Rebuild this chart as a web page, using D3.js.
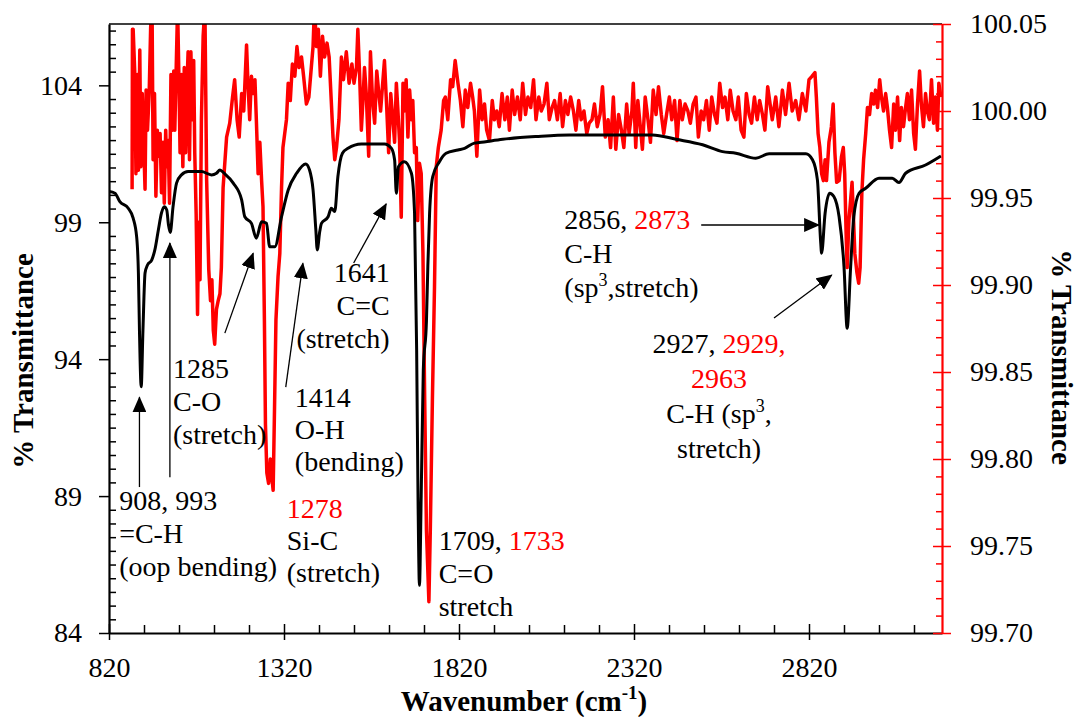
<!DOCTYPE html>
<html>
<head>
<meta charset="utf-8">
<script src="https://cdn.jsdelivr.net/npm/d3@7"></script>
<style>
  body { margin: 0; background: #fff; }
  svg text { font-family: "Liberation Serif", "Times New Roman", serif; }
</style>
</head>
<body>
<div id="chart"></div>
<script>
// black spectrum (left axis)
var blackWavenumber = [820,837,851,875,889,899,904,907,912,917,923,930,942,951,961,970,978,985,990,995,1003,1013,1027,1046,1084,1113,1127,1137,1149,1175,1199,1208,1227,1241,1256,1270,1279,1294,1313,1332,1356,1382,1393,1403,1411,1415,1422,1427,1446,1455,1465,1474,1487,1503,1541,1607,1627,1636,1641,1647,1664,1684,1693,1699,1703,1707,1712,1718,1727,1731,1736,1745,1764,1783,1817,1836,1864,1878,1945,2040,2135,2230,2373,2440,2516,2573,2611,2668,2706,2811,2830,2844,2853,2856,2866,2879,2891,2906,2920,2929,2939,2948,2963,2982,3020,3058,3077,3096,3153,3197];
var blackTransmittance = [100.12,100.06,99.75,99.51,99.15,98.47,97.15,95.06,92.99,95.06,97.15,97.44,97.62,97.99,98.72,99.34,99.57,99.45,98.90,98.63,99.57,100.43,100.73,100.85,100.85,100.73,100.79,100.91,100.79,100.43,99.82,99.20,98.96,98.42,99.02,98.96,98.11,98.11,99.20,100.18,100.79,101.13,100.91,100.18,98.72,97.99,98.65,98.96,99.20,99.51,99.39,100.67,101.52,101.70,101.86,101.86,101.70,101.28,100.06,101.03,101.21,100.79,99.34,94.33,88.85,85.74,89.0,93.6,95.4,97.4,99.34,100.67,101.21,101.52,101.64,101.70,101.89,101.91,102.03,102.13,102.19,102.19,102.19,102.03,101.83,101.58,101.52,101.34,101.50,101.50,101.28,100.55,98.35,97.87,99.33,100.06,99.94,99.20,97.38,95.13,97.38,99.20,100.06,100.24,100.61,100.61,100.45,100.79,101.09,101.42];

// red spectrum (right axis)
var redWavenumber = [886,887,889,894,897,901,904,908,911,915,919,923,926,930,935,939,943,946,950,954,958,962,966,970,974,978,982,985,989,993,997,1001,1005,1008,1012,1016,1020,1023,1027,1031,1035,1039,1043,1046,1050,1054,1058,1062,1065,1069,1073,1076,1080,1084,1089,1094,1099,1105,1110,1114,1118,1122,1127,1132,1137,1141,1146,1156,1165,1173,1179,1186,1192,1199,1205,1213,1217,1222,1227,1232,1237,1241,1246,1251,1256,1260,1264,1267,1271,1276,1281,1285,1289,1293,1297,1303,1308,1313,1317,1322,1327,1332,1338,1344,1351,1357,1363,1370,1376,1384,1391,1398,1403,1407,1413,1418,1424,1430,1436,1443,1449,1455,1460,1465,1470,1477,1484,1490,1498,1506,1514,1520,1527,1531,1536,1541,1545,1550,1555,1562,1567,1573,1579,1585,1590,1596,1602,1607,1613,1619,1625,1631,1636,1641,1645,1650,1655,1660,1664,1669,1674,1679,1684,1688,1693,1698,1702,1707,1712,1717,1722,1727,1734,1738,1744,1750,1755,1761,1769,1776,1781,1788,1796,1802,1809,1817,1824,1831,1838,1845,1853,1859,1864,1871,1879,1886,1893,1899,1907,1915,1921,1928,1935,1943,1951,1958,1964,1972,1979,1987,1995,2002,2010,2017,2025,2033,2040,2048,2055,2063,2071,2078,2086,2093,2101,2109,2116,2124,2131,2139,2147,2154,2162,2169,2177,2185,2192,2200,2207,2215,2223,2230,2238,2246,2253,2261,2268,2276,2284,2291,2299,2306,2314,2318,2325,2331,2339,2344,2352,2360,2367,2375,2383,2390,2398,2405,2413,2421,2428,2436,2443,2451,2458,2466,2474,2481,2489,2497,2504,2512,2519,2527,2535,2542,2550,2557,2565,2573,2580,2588,2595,2603,2611,2618,2626,2634,2641,2649,2656,2664,2672,2679,2687,2694,2702,2715,2725,2734,2744,2753,2763,2772,2782,2791,2801,2811,2820,2829,2837,2841,2846,2851,2856,2861,2866,2870,2877,2884,2889,2894,2899,2906,2913,2918,2922,2926,2929,2934,2939,2943,2947,2951,2957,2962,2966,2971,2976,2982,2987,2993,2999,3005,3010,3016,3022,3027,3033,3039,3044,3050,3056,3062,3067,3073,3079,3084,3090,3096,3101,3107,3113,3119,3124,3130,3136,3141,3147,3153,3158,3164,3170,3176,3181,3187,3191,3197];
var redTransmittance = [99.955,100.047,100.047,100.020,99.964,100.021,99.966,100.035,99.968,100.010,99.983,99.955,100.012,99.989,100.012,100.048,100.06,99.972,100.010,99.951,99.989,99.974,99.987,99.953,99.982,99.947,99.989,99.968,99.983,99.947,100.021,99.989,100.023,99.989,100.025,100.06,100.016,99.976,100.021,99.968,100.025,99.976,100.016,100.034,99.972,100.034,99.995,100.029,99.976,99.941,99.883,99.936,99.903,99.995,100.043,100.06,99.960,99.909,99.891,99.903,99.874,99.866,99.886,99.891,99.895,99.910,99.956,99.985,99.993,100.008,100.018,99.995,99.985,100.010,100.000,100.038,100.016,99.995,100.020,100.010,100.018,99.995,99.964,99.982,99.960,99.945,99.880,99.820,99.792,99.786,99.800,99.790,99.782,99.830,99.880,99.905,99.918,99.956,99.979,99.987,99.995,100.016,100.006,100.027,100.020,100.037,100.025,100.031,100.020,100.004,100.008,100.025,100.037,100.06,100.037,100.047,100.020,100.043,100.031,100.039,100.031,100.006,99.985,99.972,99.979,99.995,100.031,100.018,100.034,100.016,100.027,100.016,100.025,100.047,100.021,99.989,100.004,100.025,100.010,99.974,100.034,100.006,99.993,100.023,100.012,100.000,100.016,100.029,100.004,99.976,100.010,99.995,99.982,100.016,100.002,99.983,99.939,100.016,100.000,100.018,99.985,100.012,99.995,100.006,99.976,99.979,99.937,99.970,99.964,99.918,99.834,99.759,99.718,99.759,99.834,99.899,99.968,99.979,99.989,100.006,100.008,99.995,100.018,100.014,100.029,100.016,100.006,99.991,100.012,100.002,100.016,100.008,100.000,99.974,100.012,99.995,100.004,99.989,99.983,100.006,99.995,100.000,99.991,100.010,99.995,100.008,99.989,100.012,99.998,100.008,99.995,100.016,99.998,100.008,100.002,100.018,99.995,100.008,100.000,100.004,100.016,99.995,100.002,100.006,99.995,100.010,99.991,100.006,99.998,100.008,100.000,99.989,100.006,99.995,100.000,99.987,99.993,99.995,100.004,99.991,99.998,100.014,99.985,99.995,99.979,100.008,99.978,99.998,99.989,99.979,100.004,99.987,100.000,100.016,99.979,100.006,99.989,99.978,100.008,99.995,99.982,100.012,99.998,100.014,99.998,99.987,99.998,100.008,99.995,100.006,99.983,100.006,99.995,100.004,100.000,99.993,100.004,100.008,99.985,100.000,99.995,100.006,99.989,100.008,99.998,99.993,100.016,100.002,100.008,99.995,100.012,100.000,99.995,100.008,99.989,99.985,100.010,99.998,99.993,100.008,99.995,100.006,99.998,99.989,100.014,99.995,100.008,99.991,100.012,99.998,100.016,100.000,100.006,99.995,100.010,100.000,100.018,100.020,100.022,100.008,99.987,99.979,99.964,99.960,99.972,99.960,99.982,99.991,100.004,99.976,99.959,99.960,99.974,99.979,99.964,99.930,99.910,99.937,99.949,99.959,99.939,99.918,99.907,99.901,99.910,99.953,99.972,99.987,100.002,99.998,100.010,100.004,100.012,100.002,100.018,100.008,100.000,100.010,100.002,99.989,99.979,100.004,99.989,100.008,99.983,100.002,99.991,100.002,100.010,99.995,100.012,99.987,99.978,100.004,100.023,100.004,99.991,100.010,100.000,99.995,100.018,99.993,100.008,99.989,100.016,100.008];

// axis ticks
var xMajor = [820, 1320, 1820, 2320, 2820];
var leftMajor = [84, 89, 94, 99, 104];
var rightMajor = [99.70, 99.75, 99.80, 99.85, 99.90, 99.95, 100.00, 100.05];

// annotations: anchor in data units (wavenumber, left-axis %T)
var labels = [
  {wn: 849,  t: 88.48, anchor: "start", lh: 33, lines: [[["908, 993", "#000"]], [["=C-H", "#000"]], [["(oop bending)", "#000"]]]},
  {wn: 1003, t: 93.31, anchor: "start", lh: 33, lines: [[["1285", "#000"]], [["C-O", "#000"]], [["(stretch)", "#000"]]]},
  {wn: 1351, t: 92.25, anchor: "start", lh: 32, lines: [[["1414", "#000"]], [["O-H", "#000"]], [["(bending)", "#000"]]]},
  {wn: 1328, t: 88.19, anchor: "start", lh: 32, lines: [[["1278", "#ff0000"]], [["Si-C", "#000"]], [["(stretch)", "#000"]]]},
  {wn: 1622, t: 96.82, anchor: "end",   lh: 33, lines: [[["1641", "#000"]], [["C=C", "#000"]], [["(stretch)", "#000"]]]},
  {wn: 1762, t: 87.02, anchor: "start", lh: 33, lines: [[["1709, ", "#000"], ["1733", "#ff0000"]], [["C=O", "#000"]], [["stretch", "#000"]]]},
  {wn: 2121, t: 98.76, anchor: "start", lh: 34, lines: [[["2856, ", "#000"], ["2873", "#ff0000"]], [["C-H", "#000"]], [["(sp", "#000"], ["3", "#000", "sup"], [",stretch)", "#000"]]]},
  {wn: 2563, t: 94.22, anchor: "middle", lh: 35, lines: [[["2927, ", "#000"], ["2929,", "#ff0000"]], [["2963", "#ff0000"]], [["C-H (sp", "#000"], ["3", "#000", "sup"], [",", "#000"]], [["stretch)", "#000"]]]}
];

var arrows = [
  {from: [907, 89.33],  to: [907, 92.61]},
  {from: [994, 89.69],  to: [994, 98.24]},
  {from: [1151, 94.95], to: [1232, 97.87]},
  {from: [1325, 92.98], to: [1374, 97.50]},
  {from: [1519, 97.51], to: [1612, 99.67]},
  {from: [2512, 98.90], to: [2849, 98.90]},
  {from: [2720, 95.50], to: [2885, 97.07]}
];

var margin = {top: 24, right: 139, bottom: 84, left: 109};
var W = 1081, H = 717;
var width = W - margin.left - margin.right;
var height = H - margin.top - margin.bottom;

var svg = d3.select("#chart").append("svg").attr("width", W).attr("height", H);
var g = svg.append("g").attr("transform", "translate(" + margin.left + "," + margin.top + ")");

var x = d3.scaleLinear().domain([820, 3200]).range([0, width]);
var yL = d3.scaleLinear().domain([84, 106.24]).range([height, 0]);
var yR = d3.scaleLinear().domain([99.70, 100.05]).range([height, 0]);

g.append("clipPath").attr("id", "clip").append("rect").attr("width", width).attr("height", height);

// spectra
var redData = redWavenumber.map(function(d, i) { return [d, redTransmittance[i]]; });
var blackData = blackWavenumber.map(function(d, i) { return [d, blackTransmittance[i]]; });

g.append("path").datum(redData)
  .attr("clip-path", "url(#clip)")
  .attr("fill", "none").attr("stroke", "#ff0000").attr("stroke-width", 3.5).attr("stroke-linejoin", "round")
  .attr("d", d3.line().x(function(d) { return x(d[0]); }).y(function(d) { return yR(d[1]); }));

g.append("path").datum(blackData)
  .attr("clip-path", "url(#clip)")
  .attr("fill", "none").attr("stroke", "#000").attr("stroke-width", 3).attr("stroke-linejoin", "round")
  .attr("d", d3.line().curve(d3.curveMonotoneX).x(function(d) { return x(d[0]); }).y(function(d) { return yL(d[1]); }));

// top border
g.append("line").attr("x1", 0).attr("x2", width).attr("y1", 0).attr("y2", 0).attr("stroke", "#000").attr("stroke-width", 1.5);

// left axis
var leftMinor = d3.range(84, 106.25, 0.5).filter(function(v) { return leftMajor.indexOf(v) < 0; });
g.append("g").call(d3.axisRight(yL).tickValues(leftMinor).tickSize(7).tickFormat(""))
  .call(function(s) { s.select(".domain").remove(); s.selectAll("line").attr("stroke-width", 1.5); });
var la = g.append("g").call(d3.axisLeft(yL).tickValues(leftMajor).tickSize(10).tickPadding(17).tickSizeOuter(0));
la.select(".domain").attr("stroke-width", 2.2);
la.selectAll("line").attr("stroke-width", 1.5);
la.selectAll("text").attr("font-size", 28);

// bottom axis
var xMinor = d3.range(820, 3200, 100).filter(function(v) { return xMajor.indexOf(v) < 0; });
g.append("g").attr("transform", "translate(0," + height + ")")
  .call(d3.axisTop(x).tickValues(xMinor).tickSize(8).tickFormat(""))
  .call(function(s) { s.select(".domain").remove(); s.selectAll("line").attr("stroke-width", 1.5); });
var ba = g.append("g").attr("transform", "translate(0," + height + ")")
  .call(d3.axisBottom(x).tickValues(xMajor).tickSize(7).tickPadding(17).tickSizeOuter(0).tickFormat(d3.format("d")));
ba.select(".domain").attr("stroke-width", 2.2);
ba.selectAll("line").attr("y1", -9).attr("stroke-width", 1.5);
ba.selectAll("text").attr("font-size", 28);

// right axis (red)
var rightMinor = d3.range(0, 36).map(function(i) { return 99.70 + i * 0.01; })
  .filter(function(v, i) { return i % 5 !== 0; });
g.append("g").attr("transform", "translate(" + width + ",0)")
  .call(d3.axisLeft(yR).tickValues(rightMinor).tickSize(6).tickFormat(""))
  .call(function(s) { s.select(".domain").remove(); s.selectAll("line").attr("stroke", "#ff0000").attr("stroke-width", 1.5); });
var ra = g.append("g").attr("transform", "translate(" + width + ",0)")
  .call(d3.axisRight(yR).tickValues(rightMajor).tickSize(9).tickPadding(19).tickSizeOuter(0).tickFormat(d3.format(".2f")));
ra.select(".domain").attr("stroke", "#ff0000").attr("stroke-width", 2.2);
ra.selectAll("line").attr("x1", -9).attr("stroke", "#ff0000").attr("stroke-width", 1.5);
ra.selectAll("text").attr("font-size", 28).attr("fill", "#000");

// axis titles
svg.append("text").attr("transform", "translate(23,361) rotate(-90)")
  .attr("text-anchor", "middle").attr("dominant-baseline", "central")
  .attr("font-size", 29).attr("font-weight", "bold").text("% Transmittance");
svg.append("text").attr("transform", "translate(1062,357) rotate(90)")
  .attr("text-anchor", "middle").attr("dominant-baseline", "central")
  .attr("font-size", 29).attr("font-weight", "bold").text("% Transmittance");
var xt = svg.append("text").attr("x", 524).attr("y", 711).attr("text-anchor", "middle")
  .attr("font-size", 29).attr("font-weight", "bold");
xt.append("tspan").text("Wavenumber (cm");
xt.append("tspan").attr("font-size", 19).attr("dy", -12).text("-1");
xt.append("tspan").attr("dy", 12).text(")");

// arrows
var defs = svg.append("defs");
defs.append("marker").attr("id", "head").attr("viewBox", "0 0 16 14")
  .attr("refX", 15).attr("refY", 7).attr("markerWidth", 16).attr("markerHeight", 14)
  .attr("markerUnits", "userSpaceOnUse").attr("orient", "auto")
  .append("path").attr("d", "M0,0 L16,7 L0,14 Z").attr("fill", "#000");

g.selectAll(".arrow").data(arrows).enter().append("line")
  .attr("x1", function(d) { return x(d.from[0]); }).attr("y1", function(d) { return yL(d.from[1]); })
  .attr("x2", function(d) { return x(d.to[0]); }).attr("y2", function(d) { return yL(d.to[1]); })
  .attr("stroke", "#000").attr("stroke-width", 1.3).attr("marker-end", "url(#head)");

// labels
labels.forEach(function(lb) {
  var t = g.append("text").attr("font-size", 28).attr("text-anchor", lb.anchor);
  lb.lines.forEach(function(line, li) {
    line.forEach(function(seg, si) {
      var ts = t.append("tspan").attr("fill", seg[1]).text(seg[0]);
      if (si === 0) {
        ts.attr("x", x(lb.wn)).attr("y", yL(lb.t) + li * lb.lh);
      }
      if (seg[2] === "sup") {
        ts.attr("font-size", 18).attr("dy", -11);
      } else if (si > 0 && line[si - 1][2] === "sup") {
        ts.attr("dy", 11);
      }
    });
  });
});
</script>
</body>
</html>
